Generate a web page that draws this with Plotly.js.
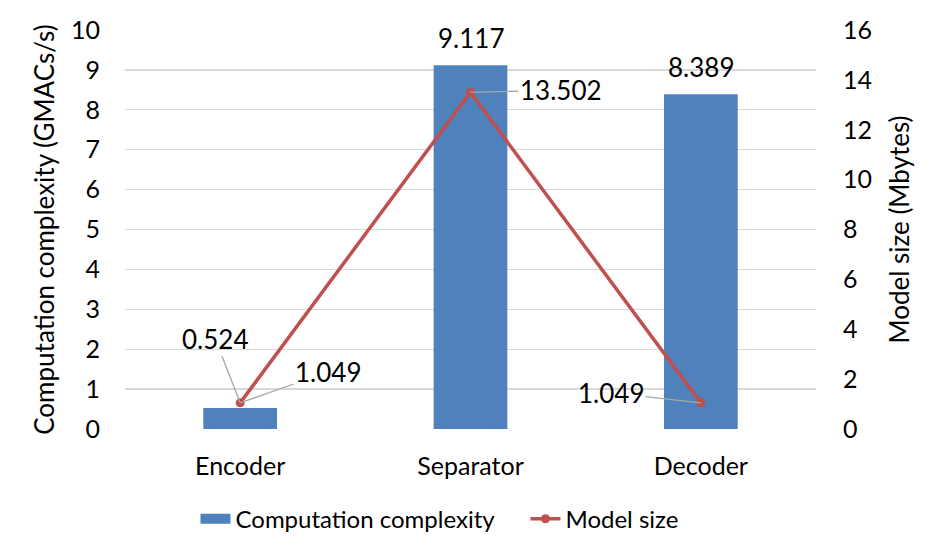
<!DOCTYPE html>
<html>
<head>
<meta charset="utf-8">
<script src="https://cdn.plot.ly/plotly-3.0.1.min.js"></script>
<style>html,body{margin:0;padding:0;background:#fff;}#chart{width:942px;height:556px;}</style>
</head>
<body>
<div id="chart"></div>
<script>
const categories = ["Encoder", "Separator", "Decoder"];
const complexity = [0.524, 9.117, 8.389];
const modelSize = [1.049, 13.502, 1.049];
const leftTicks = [0,1,2,3,4,5,6,7,8,9,10];
const rightTicks = [0,2,4,6,8,10,12,14,16];

const FONT = "Lato, 'Open Sans', sans-serif";
const labelFont = {family: FONT, size: 26, color: "#000"};
const tickFont = {family: FONT, size: 25, color: "#000"};
const BLUE = "#4F81BD", RED = "#C0504D";

const traces = [
  {
    type: "bar", name: "Computation complexity",
    x: categories, y: complexity,
    marker: {color: BLUE},
    yaxis: "y", hoverinfo: "none", showlegend: false
  },
  {
    // legend entry for the bars (wide swatch)
    type: "scatter", mode: "lines", name: "Computation complexity",
    x: [null], y: [null],
    line: {color: BLUE, width: 17},
    yaxis: "y", hoverinfo: "none", showlegend: true
  },
  {
    type: "scatter", mode: "lines+markers", name: "Model size",
    x: categories, y: modelSize,
    line: {color: RED, width: 3.5},
    marker: {color: RED, size: 9},
    yaxis: "y2", hoverinfo: "none"
  }
];

const arrowCommon = {showarrow: true, arrowhead: 0, arrowwidth: 1.3, arrowcolor: "#A6A6A6", font: labelFont, yref: "y2"};
const annotations = [
  {x: categories[1], y: complexity[1], yref: "y", text: complexity[1].toFixed(3), showarrow: false, yanchor: "bottom", yshift: 9, font: labelFont},
  {x: categories[2], y: complexity[2], yref: "y", text: complexity[2].toFixed(3), showarrow: false, yanchor: "bottom", yshift: 9, font: labelFont},
  Object.assign({x: categories[0], y: modelSize[0], text: complexity[0].toFixed(3), ax: -25, ay: -64}, arrowCommon),
  Object.assign({x: categories[0], y: modelSize[0], text: modelSize[0].toFixed(3), ax: 88, ay: -31}, arrowCommon),
  Object.assign({x: categories[1], y: modelSize[1], text: modelSize[1].toFixed(3), ax: 90, ay: -2}, arrowCommon),
  Object.assign({x: categories[2], y: modelSize[2], text: modelSize[2].toFixed(3), ax: -90, ay: -10}, arrowCommon)
];

const layout = {
  width: 942, height: 556,
  margin: {l: 125, r: 126, t: 30, b: 127},
  paper_bgcolor: "#fff", plot_bgcolor: "#fff",
  font: {family: FONT, size: 25, color: "#000"},
  bargap: 0.68,
  showlegend: true,
  legend: {orientation: "h", x: 0.102, xanchor: "left", y: -0.226, yanchor: "middle",
           font: {family: FONT, size: 24, color: "#000"}, itemwidth: 30, tracegroupgap: 0,
           entrywidth: 285, entrywidthmode: "pixels"},
  xaxis: {
    showgrid: false, zeroline: false, showline: false, ticks: "",
    tickfont: tickFont, ticklabelstandoff: 20
  },
  yaxis: {
    range: [0, 10], tickvals: leftTicks, showgrid: true, gridcolor: "#D9D9D9", gridwidth: 1.3,
    zeroline: false, showline: false, ticks: "",
    tickfont: tickFont, ticklabelstandoff: 24,
    title: {text: "Computation complexity (GMACs/s)", font: {family: FONT, size: 26, color: "#000"}, standoff: 8}
  },
  yaxis2: {
    range: [0, 16], tickvals: rightTicks, overlaying: "y", side: "right",
    showgrid: false, zeroline: false, showline: false, ticks: "",
    tickfont: tickFont, ticklabelstandoff: 26,
    title: {text: "Model size (Mbytes)", font: {family: FONT, size: 26, color: "#000"}, standoff: 19}
  },
  annotations: annotations
};

Plotly.newPlot("chart", traces, layout, {displayModeBar: false, staticPlot: true});
</script>
</body>
</html>
